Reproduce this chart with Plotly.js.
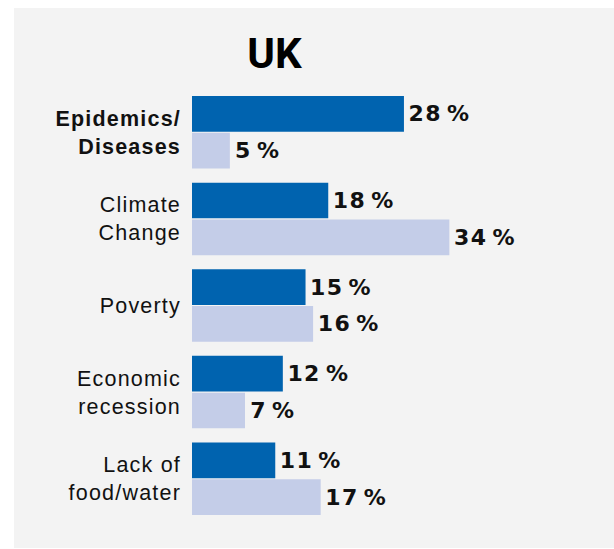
<!DOCTYPE html>
<html>
<head>
<meta charset="utf-8">
<script src="https://cdn.plot.ly/plotly-3.0.1.min.js"></script>
<style>
html,body{margin:0;padding:0;background:#fff;}
#chart{width:614px;height:549px;}
#chart .ytick text{letter-spacing:1.2px;}
#chart .bartext{letter-spacing:1.4px;}
</style>
</head>
<body>
<div id="chart"></div>
<script>
var categories = ["<b>Epidemics/</b><br><b>Diseases</b>", "Climate<br>Change", "Poverty", "Economic<br>recession", "Lack of<br>food/water"];
var darkValues = [28, 18, 15, 12, 11];
var lightValues = [5, 34, 16, 7, 17];
var chartTitle = "UK";

function labels(vals) { return vals.map(function (v) { return "\u2006" + v + "\u2006%"; }); }

var common = {
  type: "bar",
  orientation: "h",
  y: categories,
  textposition: "outside",
  cliponaxis: false,
  constraintext: "none",
  textfont: { family: "DejaVu Sans", size: 22, weight: 700, color: "#111111" },
  hoverinfo: "skip",
  showlegend: false
};

var traces = [
  Object.assign({}, common, { x: darkValues, text: labels(darkValues), marker: { color: "#0063af" } }),
  Object.assign({}, common, { x: lightValues, text: labels(lightValues), marker: { color: "#c4cde8" } })
];

var layout = {
  width: 614,
  height: 549,
  margin: { l: 192, r: 0, t: 89, b: 27, pad: 0 },
  paper_bgcolor: "#ffffff",
  plot_bgcolor: "rgba(0,0,0,0)",
  barmode: "group",
  bargap: 0.15,
  bargroupgap: 0.03,
  title: {
    text: "<b>" + chartTitle + "</b>",
    font: { family: "Roboto", size: 42, color: "#000000" },
    xref: "container", x: 0.447, xanchor: "center",
    yref: "container", y: 0.903, yanchor: "middle"
  },
  xaxis: { range: [0, 55.75], visible: false, fixedrange: true },
  yaxis: {
    autorange: "reversed",
    showgrid: false, zeroline: false, showline: false,
    ticks: "", ticklabelstandoff: 10,
    tickfont: { family: "Liberation Sans", size: 21.5, color: "#111111" }
  },
  shapes: [{
    type: "rect", xref: "paper", yref: "paper",
    x0: -0.4218, x1: 1.02, y0: -0.06, y1: 1.187,
    fillcolor: "#f3f3f3", line: { width: 0 }, layer: "below"
  }]
};

Plotly.newPlot("chart", traces, layout, { staticPlot: true, displayModeBar: false });
</script>
</body>
</html>
